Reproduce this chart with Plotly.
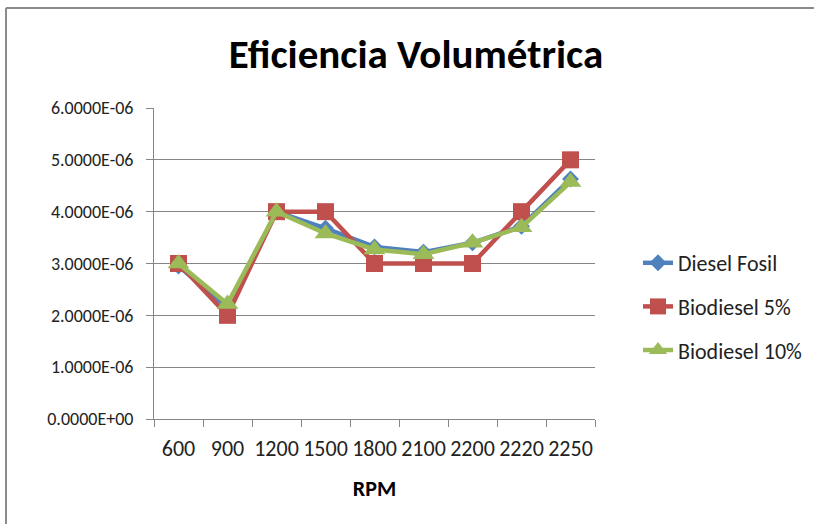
import plotly.graph_objects as go

rpm = ["600", "900", "1200", "1500", "1800", "2100", "2200", "2220", "2250"]
diesel_fosil = [2.95e-6, 2.15e-6, 4.0e-6, 3.68e-6, 3.32e-6, 3.22e-6, 3.40e-6, 3.72e-6, 4.63e-6]
biodiesel_5 = [3.0e-6, 2.0e-6, 4.0e-6, 4.0e-6, 3.0e-6, 3.0e-6, 3.0e-6, 4.0e-6, 5.0e-6]
biodiesel_10 = [3.0e-6, 2.22e-6, 4.0e-6, 3.58e-6, 3.27e-6, 3.18e-6, 3.40e-6, 3.70e-6, 4.57e-6]
y_tickvals = [0, 1e-6, 2e-6, 3e-6, 4e-6, 5e-6, 6e-6]
y_ticktext = ["0.0000E+00", "1.0000E-06", "2.0000E-06", "3.0000E-06",
              "4.0000E-06", "5.0000E-06", "6.0000E-06"]

FONT = "Carlito, Calibri, Lato, sans-serif"
GRID = "#868686"

W, H = 814, 524
L, R, T, B = 154, 219, 108, 105
pw, ph = W - L - R, H - T - B

fig = go.Figure()
fig.add_trace(go.Scatter(x=rpm, y=diesel_fosil, name="Diesel Fosil", mode="lines+markers",
                         legendgroup="a",
                         line=dict(color="#4F81BD", width=4.5),
                         marker=dict(symbol="diamond", size=13, color="#4F81BD")))
fig.add_trace(go.Scatter(x=rpm, y=biodiesel_5, name="Biodiesel 5%", mode="lines+markers",
                         legendgroup="b",
                         line=dict(color="#C0504D", width=4.5),
                         marker=dict(symbol="square", size=17, color="#C0504D")))
fig.add_trace(go.Scatter(x=rpm, y=biodiesel_10, name="Biodiesel 10%", mode="lines+markers",
                         legendgroup="c",
                         line=dict(color="#9BBB59", width=4.5),
                         marker=dict(symbol="triangle-up", size=19, color="#9BBB59")))

# chart border (left and top edges visible)
bx = (6 - L) / pw
by = (H - B - 8) / ph
fig.add_shape(type="line", xref="paper", yref="paper",
              x0=bx, x1=bx, y0=-(B + 20) / ph, y1=by,
              line=dict(color="#8C8C8C", width=2))
fig.add_shape(type="line", xref="paper", yref="paper",
              x0=bx, x1=(W + 20 - L) / pw, y0=by, y1=by,
              line=dict(color="#8C8C8C", width=2))

fig.update_layout(
    width=W, height=H,
    margin=dict(l=L, r=R, t=T, b=B, autoexpand=False),
    paper_bgcolor="white", plot_bgcolor="white",
    font=dict(family=FONT, size=18, color="#222222"),
    title=dict(text="<b>Eficiencia Volumétrica</b>", x=416 / W, xanchor="center",
               xref="container",
               y=1 - 54 / H, yanchor="middle",
               font=dict(family=FONT, size=41, color="#000000")),
    showlegend=True,
    legend=dict(x=(638 - L) / pw, xanchor="left", y=(H - B - 242) / ph, yanchor="top",
                font=dict(family=FONT, size=22, color="#222222"),
                tracegroupgap=12, bgcolor="rgba(0,0,0,0)"),
    xaxis=dict(type="category", range=[-0.5, len(rpm) - 0.5],
               showgrid=False, showline=True, linecolor=GRID, linewidth=1,
               ticks="outside", ticklen=7, tickcolor=GRID, tickson="boundaries",
               ticklabelstandoff=10, tickangle=0,
               tickfont=dict(family=FONT, size=22, color="#222222"),
               title=dict(text="<b>RPM</b>", standoff=19,
                          font=dict(family=FONT, size=22, color="#000000"))),
    yaxis=dict(range=[0, 6e-6], tickvals=y_tickvals, ticktext=y_ticktext,
               showgrid=True, gridcolor=GRID, gridwidth=1,
               showline=True, linecolor=GRID, linewidth=1,
               ticks="outside", ticklen=7, tickcolor=GRID, ticklabelstandoff=9,
               tickfont=dict(family=FONT, size=18, color="#222222"),
               zeroline=False),
)

fig.write_html("out.html")
